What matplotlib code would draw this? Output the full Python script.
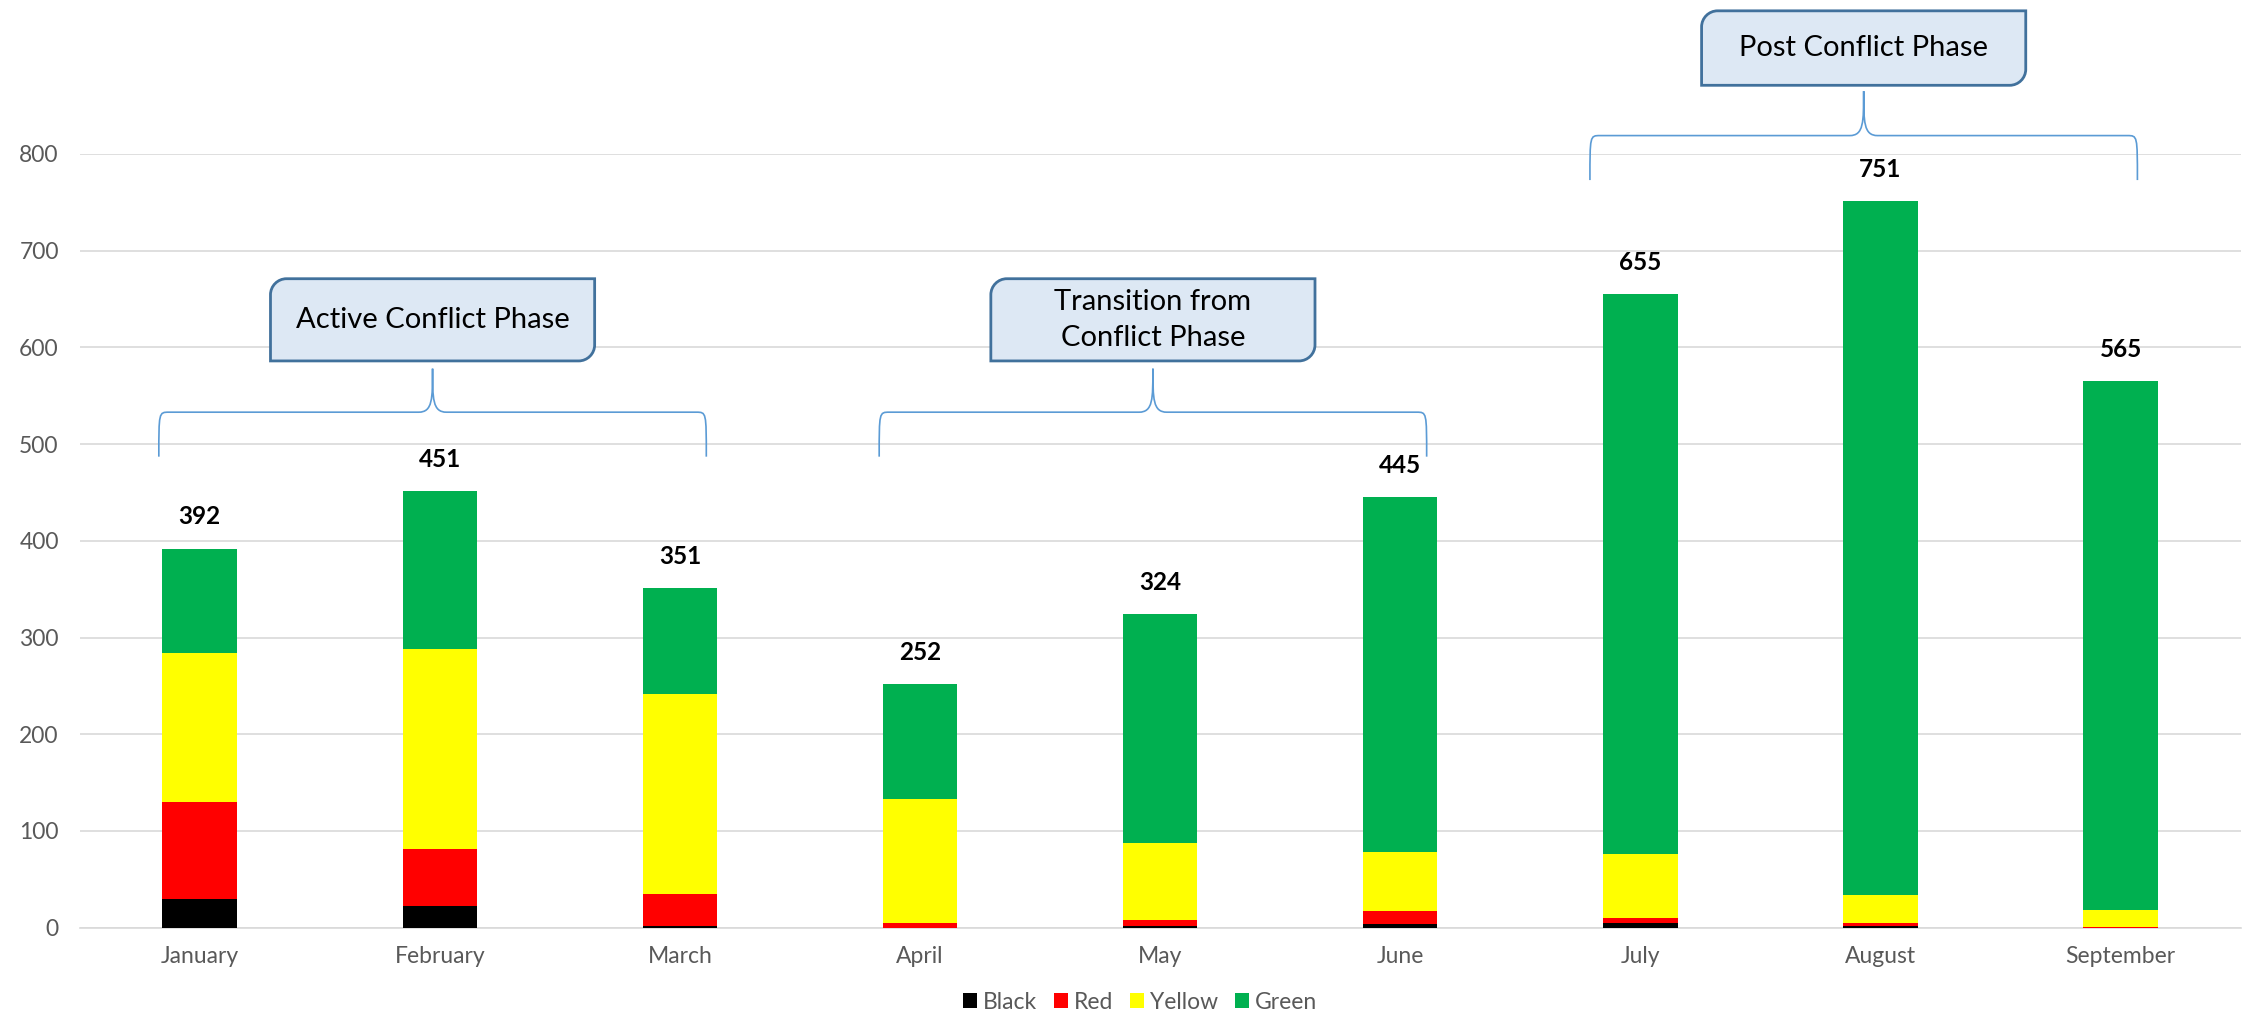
import numpy as np
import matplotlib
matplotlib.use("Agg")
import matplotlib.pyplot as plt
from matplotlib.path import Path
from matplotlib.patches import PathPatch, Patch

plt.rcParams['font.family'] = ['Lato', 'DejaVu Sans']

months = ["January", "February", "March", "April", "May", "June",
          "July", "August", "September"]
black = [30, 22, 2, 0, 2, 4, 5, 2, 0]
red = [100, 59, 33, 5, 6, 13, 5, 3, 1]
yellow = [154, 207, 207, 128, 80, 61, 66, 29, 17]
green = [108, 163, 109, 119, 236, 367, 579, 717, 547]

series_names = ["Black", "Red", "Yellow", "Green"]
series_colors = ["#000000", "#FF0000", "#FFFF00", "#00B050"]

# phase annotations: label, first month index, last month index, level
phases = [("Active Conflict Phase", 0, 2, "low"),
          ("Transition from\nConflict Phase", 3, 5, "low"),
          ("Post Conflict Phase", 6, 8, "high")]

fig = plt.figure(figsize=(22.42, 10.23), dpi=100)
ax = fig.add_axes([0.0355, 0.0932, 0.9639, 0.7563])

x = np.arange(len(months))
bottom = np.zeros(len(months))
for name, vals, col in zip(series_names, [black, red, yellow, green], series_colors):
    ax.bar(x, vals, width=0.31, bottom=bottom, color=col, linewidth=0, zorder=3, label=name)
    bottom = bottom + np.array(vals)

totals = bottom
for xi, t in zip(x, totals):
    ax.text(xi, t + 33, f"{int(t)}", ha="center", va="center", fontsize=17.5,
            fontweight="bold", color="black", clip_on=False)

ax.set_xlim(-0.5, len(months) - 0.5)
ax.set_ylim(0, 800)
ax.set_yticks(range(0, 801, 100))
ax.set_xticks(x)
ax.set_xticklabels(months)
ax.grid(axis="y", color="#d9d9d9", linewidth=1.2, zorder=0)
ax.set_axisbelow(True)
for s in ["top", "right", "left"]:
    ax.spines[s].set_visible(False)
ax.spines["bottom"].set_color("#d9d9d9")
ax.spines["bottom"].set_linewidth(1.2)
ax.tick_params(axis="both", length=0, labelsize=16.5, labelcolor="#595959")
ax.tick_params(axis="x", pad=13)
ax.tick_params(axis="y", pad=15)

# px -> data helpers for corner sizes
px_x = 1 / 240.0
px_y = 1 / 0.9666


def brace(x0, x1, xt, yh, yend, ytip):
    r = 10 * px_x
    t = 14 * px_x
    verts = [(x0, yend), (x0, yh), (x0, yh), (x0 + r, yh),
             (xt - t, yh),
             (xt, yh), (xt, yh + (ytip - yh) * 0.3), (xt, ytip),
             (xt, yh + (ytip - yh) * 0.3), (xt, yh), (xt + t, yh),
             (x1 - r, yh),
             (x1, yh), (x1, yh), (x1, yend)]
    codes = [Path.MOVETO, Path.CURVE4, Path.CURVE4, Path.CURVE4,
             Path.LINETO,
             Path.CURVE4, Path.CURVE4, Path.CURVE4,
             Path.CURVE4, Path.CURVE4, Path.CURVE4,
             Path.LINETO,
             Path.CURVE4, Path.CURVE4, Path.CURVE4]
    ax.add_patch(PathPatch(Path(verts, codes), fill=False, edgecolor="#5B9BD5",
                           linewidth=1.2, clip_on=False, zorder=5))


def diag_box(xa, xb, ya, yb):
    rx = 16 * px_x
    ry = 16 * px_y
    k = 0.45
    verts = [(xa, ya), (xa, yb - ry),
             (xa, yb - ry * k), (xa + rx * k, yb), (xa + rx, yb),
             (xb, yb), (xb, ya + ry),
             (xb, ya + ry * k), (xb - rx * k, ya), (xb - rx, ya),
             (xa, ya)]
    codes = [Path.MOVETO, Path.LINETO,
             Path.CURVE4, Path.CURVE4, Path.CURVE4,
             Path.LINETO, Path.LINETO,
             Path.CURVE4, Path.CURVE4, Path.CURVE4,
             Path.CLOSEPOLY]
    ax.add_patch(PathPatch(Path(verts, codes), facecolor="#DDE8F4", edgecolor="#41719C",
                           linewidth=2.0, clip_on=False, zorder=6))


for label, i0, i1, level in phases:
    if level == "low":
        xt = (i0 + i1) / 2 - 0.03
        yh, yend, ytip = 533, 487, 578
        ya, yb = 586, 671
    else:
        xt = (i0 + i1) / 2 - 0.07
        yh, yend, ytip = 819, 773, 865
        ya, yb = 871, 948
    half = 1.14
    brace(xt - half, xt + half, xt, yh, yend, ytip)
    diag_box(xt - 0.675, xt + 0.675, ya, yb)
    ax.text(xt, (ya + yb) / 2, label, ha="center", va="center", fontsize=21,
            color="black", linespacing=1.45, zorder=7, clip_on=False)

handles = [Patch(facecolor=c, edgecolor="none", label=n) for n, c in zip(series_names, series_colors)]
fig.legend(handles=handles, loc="center", bbox_to_anchor=(0.5085, 0.0205), ncol=4,
           frameon=False, fontsize=16.5, labelcolor="#595959", handlelength=0.6,
           handleheight=0.6, handletextpad=0.25, columnspacing=0.75)

fig.savefig("out.png", dpi=100)
